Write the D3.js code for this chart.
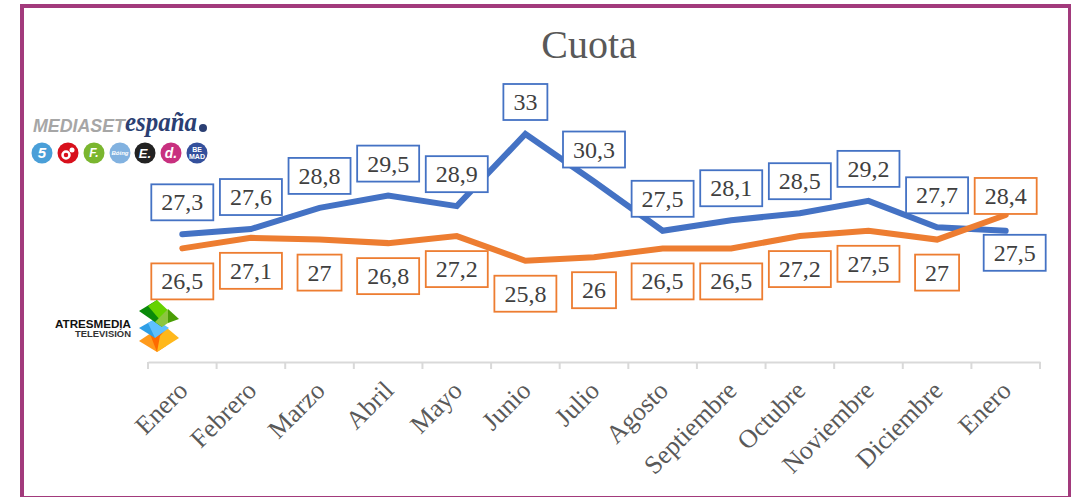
<!DOCTYPE html>
<html>
<head>
<meta charset="utf-8">
<script src="https://cdn.jsdelivr.net/npm/d3@7"></script>
<style>
  html, body { margin: 0; padding: 0; background: #fff; }
  svg { display: block; }
</style>
</head>
<body>
<div id="chart"></div>
<script>
const months = ["Enero", "Febrero", "Marzo", "Abril", "Mayo", "Junio", "Julio", "Agosto",
    "Septiembre", "Octubre", "Noviembre", "Diciembre", "Enero"];
const mediaset = [27.3, 27.6, 28.8, 29.5, 28.9, 33, 30.3, 27.5, 28.1, 28.5, 29.2, 27.7, 27.5];
const atresmedia = [26.5, 27.1, 27, 26.8, 27.2, 25.8, 26, 26.5, 26.5, 27.2, 27.5, 27, 28.4];

const width = 1071, height = 497;
const serif = "'Liberation Serif', serif";
const sans = "'Liberation Sans', sans-serif";
const blue = "#4472c4", orange = "#ed7d31";

const svg = d3.select("#chart").append("svg")
    .attr("width", width)
    .attr("height", height)
    .style("font-family", serif);

// purple frame round the slide
svg.append("rect")
    .attr("x", 20).attr("y", 4)
    .attr("width", 1051).attr("height", 493)
    .attr("fill", "#a23a7c");
svg.append("rect")
    .attr("x", 24).attr("y", 8)
    .attr("width", 1044).attr("height", 488)
    .attr("fill", "#fff");

svg.append("text")
    .attr("x", 589).attr("y", 58)
    .attr("text-anchor", "middle")
    .attr("font-size", 40)
    .attr("fill", "#595959")
    .text("Cuota");

const x = d3.scaleBand().domain(months.map((d, i) => i)).range([148, 1040]);
const y = d3.scaleLinear().domain([20, 33]).range([362.8, 134]);

// axis: labels come from the band scale, ticks sit on the band edges
const axis = svg.append("g")
    .attr("transform", "translate(0,362)")
    .call(d3.axisBottom(x).tickSize(0).tickFormat(i => months[i]));
axis.select(".domain").attr("stroke", "#d9d9d9").attr("stroke-width", 2);
axis.selectAll("text")
    .attr("font-family", serif)
    .attr("font-size", 26)
    .attr("fill", "#595959")
    .attr("text-anchor", "end")
    .attr("y", 0)
    .attr("dy", 0)
    .attr("transform", "translate(7,30) rotate(-45)");
axis.selectAll(".edge")
    .data(d3.range(months.length + 1))
    .enter().append("line")
    .attr("class", "edge")
    .attr("x1", i => 148 + i * x.step())
    .attr("x2", i => 148 + i * x.step())
    .attr("y1", 0).attr("y2", 7)
    .attr("stroke", "#d9d9d9")
    .attr("stroke-width", 2);

const line = d3.line()
    .x((d, i) => x(i) + x.bandwidth() / 2)
    .y(d => y(d));

function drawSeries(values, color) {
    svg.append("path")
        .attr("d", line(values))
        .attr("fill", "none")
        .attr("stroke", color)
        .attr("stroke-width", 6)
        .attr("stroke-linecap", "round")
        .attr("stroke-linejoin", "miter");
}

// label boxes go on after both lines, they hide the lines where they overlap
function drawLabels(values, color, offset) {
    const g = svg.append("g");
    values.forEach((v, i) => {
        const [dx, dy] = offset(i);
        const cx = x(i) + x.bandwidth() / 2 + dx;
        const cy = y(v) + dy;
        const label = g.append("g");
        const rect = label.append("rect");
        const text = label.append("text")
            .attr("x", cx).attr("y", cy + 8)
            .attr("text-anchor", "middle")
            .attr("font-size", 24)
            .attr("fill", "#404040")
            .text(String(v).replace(".", ","));
        const w = text.node().getComputedTextLength() + 20;
        rect.attr("x", cx - w / 2).attr("y", cy - 18)
            .attr("width", w).attr("height", 36)
            .attr("fill", "#fff")
            .attr("stroke", color)
            .attr("stroke-width", 1.8);
    });
}

drawSeries(mediaset, blue);
drawSeries(atresmedia, orange);
drawLabels(mediaset, blue, i => i === 12 ? [9, 22] : [0, -32]);
drawLabels(atresmedia, orange, i => i === 12 ? [0, -19] : [0, 33]);

// Mediaset logo
const ms = svg.append("g");
ms.append("text")
    .attr("x", 33).attr("y", 132)
    .attr("font-family", sans)
    .attr("font-size", 19).attr("font-weight", "bold").attr("font-style", "italic")
    .attr("fill", "#a6a6a6")
    .attr("textLength", 92).attr("lengthAdjust", "spacingAndGlyphs")
    .text("MEDIASET");
ms.append("text")
    .attr("x", 125).attr("y", 131)
    .attr("font-size", 27).attr("font-style", "italic").attr("font-weight", "bold")
    .attr("fill", "#2b3f73")
    .attr("textLength", 72).attr("lengthAdjust", "spacingAndGlyphs")
    .text("españa");
ms.append("circle").attr("cx", 203).attr("cy", 128).attr("r", 4).attr("fill", "#2b3f73");

const channelLogos = [
    { c: "#4a9fd8", t: "5", cx: 42, size: 15 },
    { c: "#d8101c", t: "", cx: 68 },
    { c: "#7ab62f", t: "F.", cx: 94, size: 12 },
    { c: "#82b2e0", t: "Bóing", cx: 120, size: 6 },
    { c: "#222222", t: "E.", cx: 145, size: 13 },
    { c: "#c8307f", t: "d.", cx: 171, size: 14 },
    { c: "#34509c", t: "", cx: 197 }
];
channelLogos.forEach(({ c, t, cx, size }) => {
    ms.append("circle").attr("cx", cx).attr("cy", 153).attr("r", 10.5).attr("fill", c);
    ms.append("text").attr("x", cx).attr("y", 153 + (size || 0) * 0.36)
        .attr("text-anchor", "middle")
        .attr("font-family", sans)
        .attr("font-size", size || 0).attr("font-weight", "bold").attr("font-style", "italic")
        .attr("fill", "#fff").text(t);
});
ms.append("circle").attr("cx", 72).attr("cy", 150).attr("r", 2.5).attr("fill", "#fff");
ms.append("circle").attr("cx", 66).attr("cy", 155).attr("r", 3.5)
    .attr("fill", "none").attr("stroke", "#fff").attr("stroke-width", 2.5);
["BE", "MAD"].forEach((t, i) => {
    ms.append("text").attr("x", 197).attr("y", 152 + i * 7)
        .attr("text-anchor", "middle")
        .attr("font-family", sans)
        .attr("font-size", 7).attr("font-weight", "bold")
        .attr("fill", "#fff").text(t);
});

// Atresmedia logo, painted orange then blue then green so each overlaps the one below
const am = svg.append("g");
am.append("text").attr("x", 131).attr("y", 328)
    .attr("text-anchor", "end")
    .attr("font-family", sans)
    .attr("font-size", 10.5).attr("font-weight", "bold").attr("fill", "#111")
    .attr("textLength", 76).attr("lengthAdjust", "spacingAndGlyphs")
    .text("ATRESMEDIA");
am.append("text").attr("x", 131).attr("y", 337)
    .attr("text-anchor", "end")
    .attr("font-family", sans)
    .attr("font-size", 8.5).attr("font-weight", "bold").attr("fill", "#333")
    .attr("textLength", 56).attr("lengthAdjust", "spacingAndGlyphs")
    .text("TELEVISIÓN");
const gem = [
    ["139,341 157,329 157,352", "#ff9a1c"],
    ["150,334 167,328 166,346 157,352", "#ff6a00"],
    ["167,328 179,338 157,352 160,336", "#ffb81c"],
    ["139,328 155,319 155,338", "#2f9fe6"],
    ["148,323 155,319 169,328 155,338", "#5fc0ff"],
    ["139,311 157,300 162,327", "#0a8a0a"],
    ["148,306 157,300 172,314 160,320", "#66d200"],
    ["155,322 168,309 168,323 162,327", "#8cc63f"],
    ["168,309 179,319 168,323", "#4a9e05"]
];
am.selectAll("polygon").data(gem).enter().append("polygon")
    .attr("points", d => d[0])
    .attr("fill", d => d[1]);
</script>
</body>
</html>
